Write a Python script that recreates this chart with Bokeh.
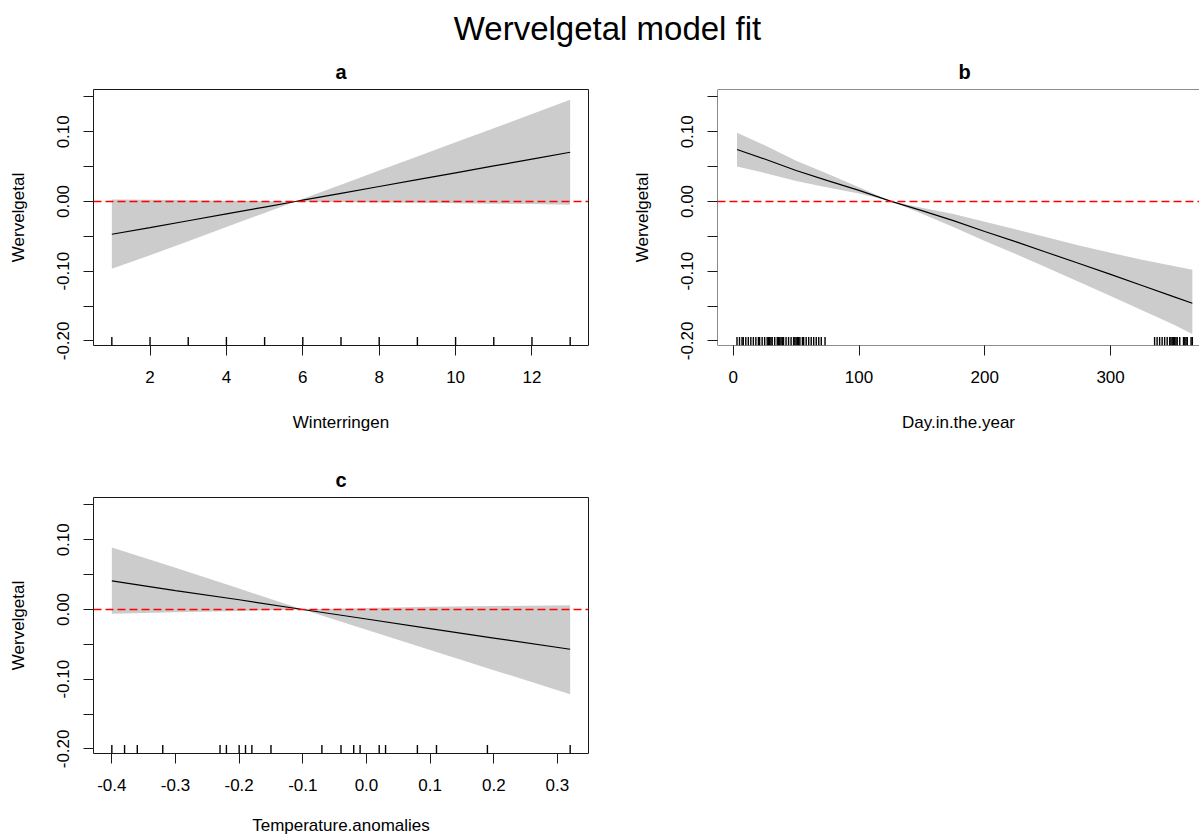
from bokeh.plotting import figure
from bokeh.models import Range1d, FixedTicker, Span, Div
from bokeh.layouts import column, row
from bokeh.embed import file_html
from bokeh.resources import INLINE

FONT = "Liberation Sans"

# ---------------- data ----------------
# panel a : Winterringen
a_x = [1, 2, 3, 4, 5, 5.81, 6, 7, 8, 9, 10, 11, 12, 13]
a_fit = [-0.047, -0.0375, -0.0276, -0.0178, -0.008, 0.0, 0.0019, 0.0117, 0.0215, 0.0314, 0.0412, 0.051, 0.0608, 0.0707]
a_upper = [0.003, 0.0024, 0.0018, 0.0011, 0.0005, 0.0, 0.0039, 0.0241, 0.0444, 0.0646, 0.0849, 0.1052, 0.1254, 0.1460]
a_lower = [-0.0965, -0.0772, -0.0569, -0.0367, -0.0164, 0.0, -0.0001, -0.0007, -0.0013, -0.0019, -0.0025, -0.0031, -0.0037, -0.0045]
a_rug = [1, 2, 3, 4, 5, 6, 7, 8, 9, 10, 11, 12, 13]

# panel b : Day.in.the.year
b_x = [3, 25, 50, 75, 100, 125, 150, 175, 200, 225, 250, 275, 300, 325, 350, 365]
b_fit = [0.0746, 0.061, 0.0445, 0.030, 0.0160, 0.0006, -0.013, -0.0275, -0.043, -0.058, -0.0735, -0.089, -0.1045, -0.1205, -0.1365, -0.1459]
b_upper = [0.0986, 0.0807, 0.0584, 0.0398, 0.0205, 0.0006, -0.009, -0.018, -0.029, -0.040, -0.0515, -0.063, -0.0735, -0.0835, -0.0925, -0.0979]
b_lower = [0.0502, 0.041, 0.0295, 0.020, 0.0114, 0.0006, -0.0175, -0.0365, -0.0565, -0.0755, -0.0955, -0.1155, -0.1355, -0.156, -0.1765, -0.190]
b_rug = [3, 5, 7, 8, 10, 12, 14, 16, 18, 20, 21, 23, 25, 27, 28, 29, 30, 31, 33, 35, 36, 37, 38, 39, 40,
         42, 44, 46, 48, 49, 50, 51, 52, 53, 55, 56, 58, 60, 62, 64, 66, 68, 70, 73,
         335, 337, 339, 341, 343, 345, 347, 348, 349, 350, 351, 352, 353, 355, 358, 359, 360, 361, 364, 365]

# panel c : Temperature.anomalies
c_x = [-0.4, -0.3, -0.2, -0.1, 0.0, 0.1, 0.2, 0.32]
c_fit = [0.041, 0.027, 0.014, 0.0, -0.0136, -0.0273, -0.041, -0.057]
c_upper = [0.089, 0.060, 0.030, 0.0, 0.002, 0.004, 0.005, 0.006]
c_lower = [-0.006, -0.004, -0.002, 0.0, -0.029, -0.058, -0.087, -0.1215]
c_rug = [-0.40, -0.38, -0.36, -0.32, -0.23, -0.22, -0.20, -0.19, -0.18, -0.15, -0.07, -0.04,
         -0.02, -0.01, 0.02, 0.03, 0.08, 0.11, 0.19, 0.32]

y_ticks = [-0.20, -0.15, -0.10, -0.05, 0.0, 0.05, 0.10, 0.15]
y_labels = ["-0.20", "", "-0.10", "", "0.00", "", "0.10", ""]

a_ticks = [2, 4, 6, 8, 10, 12]
a_labels = ["2", "4", "6", "8", "10", "12"]
b_ticks = [0, 100, 200, 300]
b_labels = ["0", "100", "200", "300"]
c_ticks = [-0.4, -0.3, -0.2, -0.1, 0.0, 0.1, 0.2, 0.3]
c_labels = ["-0.4", "-0.3", "-0.2", "-0.1", "0.0", "0.1", "0.2", "0.3"]

Y_RANGE = (-0.2066, 0.1607)
RUG_LEN = 0.0122

LINE_COL = "#1a1a1a"


def panel(title, xlab, xr, xticks, xlabels, x, fit, up, lo, rug,
          width, height, bl, br, bt, bb, outline=True, title_offset=None, xlab_standoff=27):
    p = figure(width=width, height=height, x_range=Range1d(*xr), y_range=Range1d(*Y_RANGE),
               output_backend="svg", toolbar_location=None,
               min_border_left=bl, min_border_right=br, min_border_top=bt, min_border_bottom=bb)
    p.background_fill_color = "white"
    p.border_fill_color = "white"
    p.xgrid.visible = False
    p.ygrid.visible = False
    p.outline_line_color = LINE_COL if outline else None
    p.outline_line_width = 1

    p.title.text = title
    p.title.text_font = FONT
    p.title.text_font_size = "20px"
    p.title.text_font_style = "bold"
    p.title.text_color = "black"
    if title_offset is None:
        p.title.align = "center"
    else:
        p.title.align = "left"
        p.title.offset = title_offset
    p.title.standoff = 14

    p.varea(x=x, y1=lo, y2=up, fill_color="#cccccc", fill_alpha=1.0)
    p.line(x=x, y=fit, line_color="black", line_width=1.2)
    p.add_layout(Span(location=0, dimension="width", line_color="#ff0000",
                      line_dash="8 4", line_width=1.5))
    n = len(rug)
    p.segment(x0=rug, x1=rug, y0=[Y_RANGE[0]] * n, y1=[Y_RANGE[0] + RUG_LEN] * n,
              line_color="black", line_width=1.4)

    # axes
    for ax in (p.xaxis[0], p.yaxis[0]):
        ax.axis_line_color = None
        ax.major_tick_out = 10
        ax.major_tick_in = 0
        ax.minor_tick_line_color = None
        ax.major_tick_line_color = LINE_COL
        ax.major_label_text_font = FONT
        ax.major_label_text_font_size = "17px"
        ax.major_label_text_color = "black"
        ax.axis_label_text_font = FONT
        ax.axis_label_text_font_size = "17px"
        ax.axis_label_text_font_style = "normal"
        ax.axis_label_text_color = "black"

    p.xaxis.ticker = FixedTicker(ticks=xticks)
    p.xaxis.major_label_overrides = {float(t): s for t, s in zip(xticks, xlabels)}
    p.xaxis.axis_label = xlab
    p.xaxis.major_label_standoff = 15
    p.xaxis.axis_label_standoff = xlab_standoff

    p.yaxis.ticker = FixedTicker(ticks=y_ticks)
    p.yaxis.major_label_overrides = {float(t): s for t, s in zip(y_ticks, y_labels)}
    p.yaxis.major_label_orientation = "vertical"
    p.yaxis.axis_label = "Wervelgetal"
    p.yaxis.major_label_standoff = 14
    p.yaxis.axis_label_standoff = 27

    if not outline:
        for loc in Y_RANGE:
            p.add_layout(Span(location=loc, dimension="width", line_color=LINE_COL, line_width=1))
        p.add_layout(Span(location=xr[0], dimension="height", line_color=LINE_COL, line_width=1))
    return p


pa = panel("a", "Winterringen", (0.52, 13.48), a_ticks, a_labels,
           a_x, a_fit, a_upper, a_lower, a_rug,
           width=600, height=400, bl=93, br=12, bt=39, bb=105)
pb = panel("b", "Day.in.the.year", (-12.5, 370.7), b_ticks, b_labels,
           b_x, b_fit, b_upper, b_lower, b_rug,
           width=599, height=400, bl=117, br=0, bt=39, bb=105, outline=False, title_offset=241)
pc = panel("c", "Temperature.anomalies", (-0.4288, 0.3488), c_ticks, c_labels,
           c_x, c_fit, c_upper, c_lower, c_rug,
           width=600, height=389, bl=93, br=12, bt=47, bb=86, xlab_standoff=22)

title = Div(text='<div style="font-family:\'Liberation Sans\'; font-size:33px; line-height:33px; '
                 'padding-top:12px; padding-left:16px; width:1199px; box-sizing:border-box; '
                 'text-align:center; color:#000;">Wervelgetal model fit</div>',
            width=1199, height=50, margin=(0, 0, 0, 0))

layout = column(title, row(pa, pb), pc)
open("out.html", "w").write(file_html(layout, INLINE))
